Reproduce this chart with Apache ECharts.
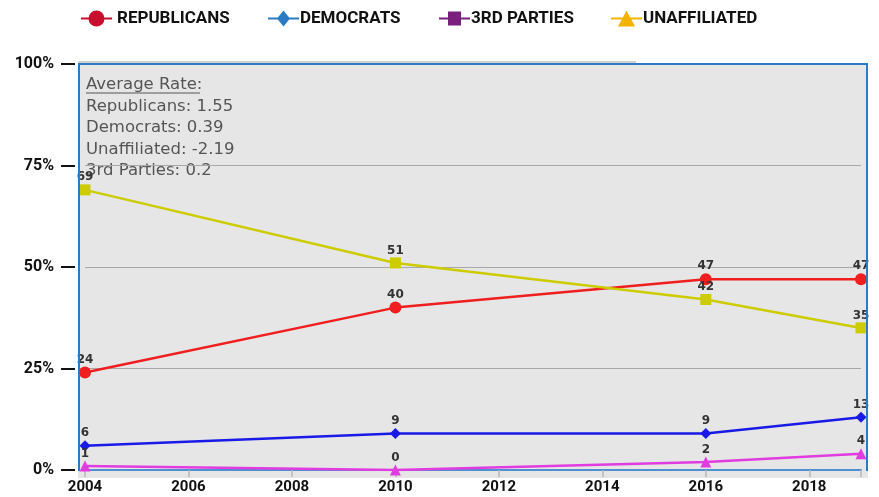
<!DOCTYPE html>
<html>
<head>
<meta charset="utf-8">
<script src="https://cdn.jsdelivr.net/npm/echarts@6/dist/echarts.min.js"></script>
<style>
  html, body { margin: 0; padding: 0; background: #fff; }
  #chart { width: 879px; height: 497px; }
</style>
</head>
<body>
<div id="chart"></div>
<script>
// survey years and party shares (%)
var years = [2004, 2010, 2016, 2019];
var republicans = [24, 40, 47, 47];
var democrats = [6, 9, 9, 13];
var thirdParties = [1, 0, 2, 4];
var unaffiliated = [69, 51, 42, 35];
var yTicks = [0, 25, 50, 75, 100];
var rateTitle = 'Average Rate:';
var rateLines = ['Republicans: 1.55', 'Democrats: 0.39', 'Unaffiliated: -2.19', '3rd Parties: 0.2'];

function pairs(vals) {
  return years.map(function (y, i) { return [y, vals[i]]; });
}

// legend icons: a bar with the marker on top (31x16 box)
var bar = 'M0,7 L31,7 L31,9 L0,9 Z ';
var icons = {
  circle: 'path://' + bar + 'M7.5,8 A8,8 0 1,1 23.5,8 A8,8 0 1,1 7.5,8 Z',
  diamond: 'path://' + bar + 'M15.5,0 L22,8 L15.5,16 L9,8 Z',
  square: 'path://' + bar + 'M9,1 L22,1 L22,15 L9,15 Z',
  triangle: 'path://' + bar + 'M15.5,0 L24,16 L7,16 Z'
};

var myChart = echarts.init(document.getElementById('chart'));

function legendFor(name, left, icon, color, pad) {
  return {
    left: left,
    top: 5,
    itemWidth: 31,
    itemHeight: 16,
    data: [{
      name: name,
      icon: icon,
      itemStyle: { color: color, borderWidth: 0 },
      lineStyle: { color: color, width: 0 }
    }],
    textStyle: {
      fontFamily: 'Roboto',
      fontWeight: 'bold',
      fontSize: 17,
      color: '#111',
      padding: [0, 0, 0, pad]
    }
  };
}

var labelStyle = {
  show: true,
  position: 'top',
  distance: 1,
  fontFamily: 'DejaVu Sans',
  fontWeight: 'bold',
  fontSize: 12,
  color: '#333'
};

var graphics = [{
  type: 'rect',
  z: -10,
  shape: { x: 78, y: 64, width: 790, height: 414 },
  style: { fill: '#e6e6e6', stroke: null }
}, {
  type: 'polyline',
  z: 5,
  shape: { points: [[79, 471], [79, 64], [867, 64], [867, 471]] },
  style: { stroke: '#2f7bc2', lineWidth: 2, fill: null }
}, {
  type: 'line',
  z: 5,
  shape: { x1: 78, y1: 62, x2: 636, y2: 62 },
  style: { stroke: '#d0d0d0', lineWidth: 2 }
}, {
  type: 'text',
  left: 86,
  top: 76,
  style: { text: rateTitle, fontFamily: 'DejaVu Sans', fontSize: 16.5, fill: '#555' }
}, {
  type: 'line',
  shape: { x1: 86, y1: 93, x2: 200, y2: 93 },
  style: { stroke: '#555', lineWidth: 1 }
}];
rateLines.forEach(function (t, i) {
  graphics.push({
    type: 'text',
    left: 86,
    top: 98 + i * 21.5,
    style: { text: t, fontFamily: 'DejaVu Sans', fontSize: 16.5, fill: '#555' }
  });
});

myChart.setOption({
  animation: false,
  legend: [
    legendFor('REPUBLICANS', 76, icons.circle, '#c8102e', 0),
    legendFor('DEMOCRATS', 263, icons.diamond, '#2b7bc4', -4),
    legendFor('3RD PARTIES', 434, icons.square, '#7b1f7f', -4),
    legendFor('UNAFFILIATED', 606, icons.triangle, '#f2b400', -4)
  ],
  grid: { left: 85, right: 18, top: 64, bottom: 27, containLabel: false },
  graphic: graphics,
  xAxis: {
    type: 'value',
    min: 2004,
    max: 2019,
    interval: 2,
    axisLine: { show: true, lineStyle: { color: '#4d8fd0', width: 2 } },
    axisTick: { show: true, length: 7, lineStyle: { color: '#b8b8b8', width: 1.5 } },
    splitLine: { show: false },
    axisLabel: {
      margin: 10,
      fontFamily: 'Roboto',
      fontWeight: 'bold',
      fontSize: 15,
      color: '#111',
      formatter: function (v) { return v % 2 === 0 ? String(v) : ''; }
    }
  },
  yAxis: {
    type: 'value',
    min: yTicks[0],
    max: yTicks[yTicks.length - 1],
    interval: 25,
    offset: 10,
    axisLine: { show: false },
    axisTick: { show: true, length: 14, lineStyle: { color: '#111', width: 2 } },
    splitLine: {
      show: true,
      lineStyle: { color: ['transparent', '#a8a8a8', '#a8a8a8', '#a8a8a8', 'transparent'], width: 1 }
    },
    axisLabel: {
      margin: 21,
      fontFamily: 'Roboto',
      fontWeight: 'bold',
      fontSize: 16,
      color: '#111',
      formatter: '{value}%'
    }
  },
  series: [{
    name: 'REPUBLICANS',
    type: 'line',
    data: pairs(republicans),
    symbol: 'circle',
    symbolSize: 12,
    itemStyle: { color: '#f01e1e' },
    lineStyle: { color: '#f01e1e', width: 2.5 },
    label: labelStyle
  }, {
    name: 'DEMOCRATS',
    type: 'line',
    data: pairs(democrats),
    symbol: 'diamond',
    symbolSize: 11,
    itemStyle: { color: '#1a1ae6' },
    lineStyle: { color: '#1a1ae6', width: 2.5 },
    label: labelStyle
  }, {
    name: '3RD PARTIES',
    type: 'line',
    data: pairs(thirdParties),
    symbol: 'triangle',
    symbolSize: 11,
    itemStyle: { color: '#e03ce0' },
    lineStyle: { color: '#e03ce0', width: 2.5 },
    label: labelStyle
  }, {
    name: 'UNAFFILIATED',
    type: 'line',
    data: pairs(unaffiliated),
    symbol: 'rect',
    symbolSize: 11,
    itemStyle: { color: '#cccc00' },
    lineStyle: { color: '#cccc00', width: 2.5 },
    label: labelStyle
  }]
});
</script>
</body>
</html>
